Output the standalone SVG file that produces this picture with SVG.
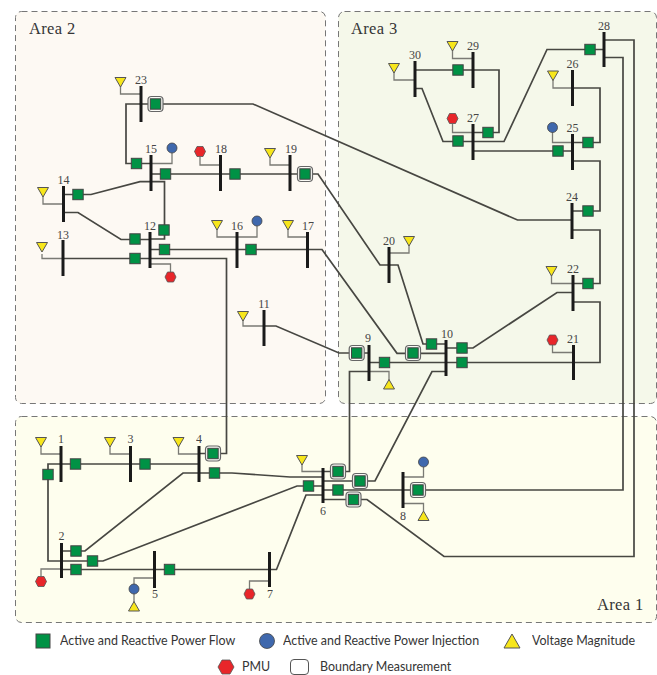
<svg xmlns="http://www.w3.org/2000/svg" xmlns:xlink="http://www.w3.org/1999/xlink" width="657" height="675" viewBox="0 0 657 675">
<style>
text{font-family:"Liberation Serif",serif;fill:#444;opacity:.99}
.n{font-size:12px;text-anchor:middle}
.a{font-size:16.5px;letter-spacing:.35px;fill:#333}
.lg{font-family:Lato,"Open Sans",sans-serif;font-size:12.45px;fill:#333}
.area{stroke:#777;stroke-width:1;stroke-dasharray:6 4}
.c{fill:none;stroke:#474742;stroke-width:1.7;stroke-linejoin:miter}
.s{fill:none;stroke:#7a7a74;stroke-width:1.3}
.b{stroke:#1a1a1a;stroke-width:3}
.sq{fill:#009245;stroke:#444;stroke-width:1}
.tri{fill:#f7e61b;stroke:#555;stroke-width:1}
.hex{fill:#e8262a;stroke:#555;stroke-width:.8}
.circ{fill:#3f68ad;stroke:#444;stroke-width:.8}
.bd{fill:#fbfbf6;stroke:#666;stroke-width:1.2}
</style>
<defs>
<rect id="sq" class="sq" x="-5.2" y="-5.2" width="10.4" height="10.4"/>
<g id="bsq"><rect class="bd" x="-7.5" y="-7.5" width="15" height="15" rx="3.5"/><rect class="sq" x="-5.2" y="-5.2" width="10.4" height="10.4"/></g>
<path id="tri" class="tri" d="M-5.5-4.5H5.5L0 5Z"/>
<path id="tru" class="tri" d="M-5.5 4.5H5.5L0-5Z"/>
<path id="hex" class="hex" d="M-5.5 0L-3-5H3L5.5 0L3 5H-3Z"/>
<circle id="cir" class="circ" r="5"/>
</defs>
<g id="areas">
<rect id="area2" class="area" x="15.5" y="11.5" width="310" height="392" rx="6" fill="#fdf9f3"/>
<rect id="area3" class="area" x="338.5" y="11.5" width="318" height="392" rx="6" fill="#f5f8ea"/>
<rect id="area1" class="area" x="15.5" y="416.5" width="641" height="206" rx="6" fill="#fefeee"/>
<text class="a" x="29" y="34">Area 2</text>
<text class="a" x="351" y="34">Area 3</text>
<text class="a" x="597" y="610">Area 1</text>
</g>
<g id="connectors">
<path class="c" d="M141 104H126V163.5H151"/>
<path class="c" d="M141 104H253L517.5 220H572"/>
<path class="c" d="M151 174H318L380 265H398L423 344H446"/>
<path class="c" d="M63.5 194.5H91L140 181.7H164.500V239H150"/>
<path class="c" d="M63.5 212.5H78L121 239.5H150"/>
<path class="c" d="M63 258.5H150"/>
<path class="c" d="M150 249.5H322L397 353.3H446"/>
<path class="c" d="M150 258.5H226.5V453.5H199"/>
<path class="c" d="M264 326H276L339 353H369"/>
<path class="c" d="M369 362.5H600V302H573"/>
<path class="c" d="M369 371.5H349.5V471.5H323"/>
<path class="c" d="M446 371.5H432L375 481H323"/>
<path class="c" d="M446 348H473L557 292.5H573"/>
<path class="c" d="M199 473H232L290 477H323"/>
<path class="c" d="M61.5 551H85L183 473H199"/>
<path class="c" d="M61 464H48V561H61.5"/>
<path class="c" d="M61 464H199"/>
<path class="c" d="M61.5 561H103L297 486H323"/>
<path class="c" d="M61.5 569.5H276.5L306 495H323"/>
<path class="c" d="M323 490H623V57.5H604"/>
<path class="c" d="M323 499.5H367L444 556.5H634V40H604"/>
<path class="c" d="M604 49.5H547L504 141.5H443L422 88.5H415"/>
<path class="c" d="M415 70H499V132.5H473"/>
<path class="c" d="M473 151H572.5"/>
<path class="c" d="M572.5 88H600V142.5H572.5"/>
<path class="c" d="M572.5 161H600V211H572"/>
<path class="c" d="M572 230H600V283.5H573"/>
</g>
<g id="stubs">
<path class="s" d="M120.5 86V94H141"/>
<path class="s" d="M151 163.5H172V153"/>
<path class="s" d="M200 157V165H220.5"/>
<path class="s" d="M270 158V165H290"/>
<path class="s" d="M43 196V204H63.5"/>
<path class="s" d="M42 254V258.5H63"/>
<path class="s" d="M150 264H170.5V272"/>
<path class="s" d="M217 229V237H237H257V226"/>
<path class="s" d="M288 229V237H307.5"/>
<path class="s" d="M243 320V326H264"/>
<path class="s" d="M369 371.5H389V380"/>
<path class="s" d="M552.5 345V352.5H573.5"/>
<path class="s" d="M409 245V253H389"/>
<path class="s" d="M452.5 50V58.5H473"/>
<path class="s" d="M394 72V80H415"/>
<path class="s" d="M452.5 124V132.5H473"/>
<path class="s" d="M553 80V88H572.5"/>
<path class="s" d="M552.5 132V142.5H572.5"/>
<path class="s" d="M551.5 275V283.5H573"/>
<path class="s" d="M41 446V454H61"/>
<path class="s" d="M110 446V454H130.5"/>
<path class="s" d="M178.5 446V454H199"/>
<path class="s" d="M302 464V471.5H323"/>
<path class="s" d="M41 576V569H61.5"/>
<path class="s" d="M134 602V578H154.5"/>
<path class="s" d="M249.5 589V581H269.5"/>
<path class="s" d="M403 477H423.5V467"/>
<path class="s" d="M403 503.5H423.5V511"/>
</g>
<g id="bus1"><line class="b" x1="61" y1="446" x2="61" y2="482"/><text class="n" x="61" y="443">1</text><use xlink:href="#tri" x="41" y="442"/><use xlink:href="#sq" x="75.5" y="464"/><use xlink:href="#sq" x="48" y="474.5"/></g>
<g id="bus2"><line class="b" x1="61.5" y1="543" x2="61.5" y2="578"/><text class="n" x="61.5" y="540">2</text><use xlink:href="#hex" x="41" y="581.5"/><use xlink:href="#sq" x="76" y="551"/><use xlink:href="#sq" x="92.5" y="561"/><use xlink:href="#sq" x="76" y="569.5"/></g>
<g id="bus3"><line class="b" x1="130.5" y1="446" x2="130.5" y2="482"/><text class="n" x="130.5" y="443">3</text><use xlink:href="#tri" x="110" y="442"/><use xlink:href="#sq" x="145" y="464"/></g>
<g id="bus4"><line class="b" x1="199" y1="446" x2="199" y2="482"/><text class="n" x="199" y="443">4</text><use xlink:href="#tri" x="178.5" y="442"/><use xlink:href="#bsq" x="213" y="453.5"/><use xlink:href="#sq" x="214.5" y="473"/></g>
<g id="bus5"><line class="b" x1="154.5" y1="551" x2="154.5" y2="588"/><text class="n" x="155" y="598">5</text><use xlink:href="#cir" x="134" y="589"/><use xlink:href="#tru" x="134" y="606.5"/><use xlink:href="#sq" x="169.5" y="569.5"/></g>
<g id="bus6"><line class="b" x1="323" y1="468" x2="323" y2="503"/><text class="n" x="323" y="515">6</text><use xlink:href="#tri" x="302" y="460"/><use xlink:href="#sq" x="308.5" y="486"/><use xlink:href="#bsq" x="338" y="471.5"/><use xlink:href="#bsq" x="360" y="481"/><use xlink:href="#sq" x="338" y="490"/><use xlink:href="#bsq" x="353.5" y="499.5"/></g>
<g id="bus7"><line class="b" x1="269.5" y1="552" x2="269.5" y2="587"/><text class="n" x="270" y="598">7</text><use xlink:href="#hex" x="249.5" y="594"/></g>
<g id="bus8"><line class="b" x1="403" y1="472" x2="403" y2="508"/><text class="n" x="403" y="520">8</text><use xlink:href="#cir" x="423.5" y="462"/><use xlink:href="#tru" x="423.5" y="516"/><use xlink:href="#bsq" x="418" y="490"/></g>
<g id="bus9"><line class="b" x1="369" y1="345" x2="369" y2="381"/><text class="n" x="368" y="342">9</text><use xlink:href="#bsq" x="356.7" y="353"/><use xlink:href="#sq" x="384.5" y="362.5"/><use xlink:href="#tru" x="389" y="384.5"/></g>
<g id="bus10"><line class="b" x1="446" y1="340" x2="446" y2="376"/><text class="n" x="447" y="338">10</text><use xlink:href="#sq" x="431.5" y="344"/><use xlink:href="#bsq" x="413" y="353"/><use xlink:href="#sq" x="462" y="348"/><use xlink:href="#sq" x="462" y="362.5"/></g>
<g id="bus11"><line class="b" x1="264" y1="310" x2="264" y2="346"/><text class="n" x="264" y="308">11</text><use xlink:href="#tri" x="243" y="316"/></g>
<g id="bus12"><line class="b" x1="150" y1="232" x2="150" y2="268"/><text class="n" x="150" y="230">12</text><use xlink:href="#sq" x="164" y="230"/><use xlink:href="#sq" x="135" y="239"/><use xlink:href="#sq" x="135" y="258.5"/><use xlink:href="#sq" x="164.5" y="249.5"/><use xlink:href="#hex" x="170.5" y="277"/></g>
<g id="bus13"><line class="b" x1="63" y1="240" x2="63" y2="276"/><text class="n" x="63" y="239">13</text><use xlink:href="#tri" x="42" y="247"/></g>
<g id="bus14"><line class="b" x1="63.5" y1="186" x2="63.5" y2="222"/><text class="n" x="63.5" y="184">14</text><use xlink:href="#tri" x="43" y="192"/><use xlink:href="#sq" x="78" y="194.5"/></g>
<g id="bus15"><line class="b" x1="151" y1="155" x2="151" y2="191"/><text class="n" x="151" y="153">15</text><use xlink:href="#cir" x="172" y="148"/><use xlink:href="#sq" x="136.5" y="163.5"/><use xlink:href="#sq" x="165.5" y="174"/></g>
<g id="bus16"><line class="b" x1="237" y1="232" x2="237" y2="268"/><text class="n" x="237" y="230">16</text><use xlink:href="#tri" x="217" y="225"/><use xlink:href="#cir" x="257" y="221"/><use xlink:href="#sq" x="251" y="249.5"/></g>
<g id="bus17"><line class="b" x1="307.5" y1="232" x2="307.5" y2="268"/><text class="n" x="308" y="230">17</text><use xlink:href="#tri" x="288" y="225"/></g>
<g id="bus18"><line class="b" x1="220.5" y1="155" x2="220.5" y2="191"/><text class="n" x="221" y="153">18</text><use xlink:href="#hex" x="200" y="151.5"/><use xlink:href="#sq" x="235" y="174"/></g>
<g id="bus19"><line class="b" x1="290" y1="155" x2="290" y2="191"/><text class="n" x="291" y="153">19</text><use xlink:href="#tri" x="270" y="153"/><use xlink:href="#bsq" x="305" y="174"/></g>
<g id="bus20"><line class="b" x1="389" y1="247" x2="389" y2="283"/><text class="n" x="389" y="245">20</text><use xlink:href="#tri" x="409" y="241"/></g>
<g id="bus21"><line class="b" x1="573.5" y1="345" x2="573.5" y2="380"/><text class="n" x="573" y="343">21</text><use xlink:href="#hex" x="552.5" y="340"/></g>
<g id="bus22"><line class="b" x1="573" y1="275" x2="573" y2="311"/><text class="n" x="573" y="273">22</text><use xlink:href="#tri" x="551.5" y="271"/><use xlink:href="#sq" x="588" y="283.5"/></g>
<g id="bus23"><line class="b" x1="141" y1="86" x2="141" y2="122"/><text class="n" x="141" y="84">23</text><use xlink:href="#tri" x="120.5" y="82"/><use xlink:href="#bsq" x="155.5" y="104"/></g>
<g id="bus24"><line class="b" x1="572" y1="203" x2="572" y2="239"/><text class="n" x="572" y="201">24</text><use xlink:href="#sq" x="588" y="211"/></g>
<g id="bus25"><line class="b" x1="572.5" y1="134" x2="572.5" y2="170"/><text class="n" x="572.5" y="132">25</text><use xlink:href="#cir" x="552.5" y="127.5"/><use xlink:href="#sq" x="588" y="142.5"/><use xlink:href="#sq" x="558" y="151"/></g>
<g id="bus26"><line class="b" x1="572.5" y1="70" x2="572.5" y2="106"/><text class="n" x="572.5" y="68">26</text><use xlink:href="#tri" x="553" y="75.5"/></g>
<g id="bus27"><line class="b" x1="473" y1="124" x2="473" y2="160"/><text class="n" x="473" y="122">27</text><use xlink:href="#hex" x="452.5" y="118.5"/><use xlink:href="#sq" x="458" y="141"/><use xlink:href="#sq" x="488" y="132.5"/></g>
<g id="bus28"><line class="b" x1="604" y1="32" x2="604" y2="67"/><text class="n" x="604" y="30">28</text><use xlink:href="#sq" x="590" y="49.5"/></g>
<g id="bus29"><line class="b" x1="473" y1="52" x2="473" y2="88"/><text class="n" x="473" y="50">29</text><use xlink:href="#tri" x="452.5" y="46"/><use xlink:href="#sq" x="458" y="70"/></g>
<g id="bus30"><line class="b" x1="415" y1="61" x2="415" y2="97"/><text class="n" x="415" y="59">30</text><use xlink:href="#tri" x="394" y="68"/></g>
<g id="legend">
<rect class="sq" x="36" y="634" width="14" height="14"/>
<text class="lg" x="60" y="645">Active and Reactive Power Flow</text>
<circle class="circ" cx="267" cy="641" r="7.5"/>
<text class="lg" x="283" y="645">Active and Reactive Power Injection</text>
<path class="tri" d="M504 648H520L512 634Z"/>
<text class="lg" x="532" y="645">Voltage Magnitude</text>
<path class="hex" d="M218 667L222 660H230L234 667L230 674H222Z"/>
<text class="lg" x="242" y="671">PMU</text>
<rect x="290.5" y="659.5" width="18" height="15" rx="3.5" fill="#fff" stroke="#555" stroke-width="1"/>
<text class="lg" x="320" y="671">Boundary Measurement</text>
</g>
</svg>
